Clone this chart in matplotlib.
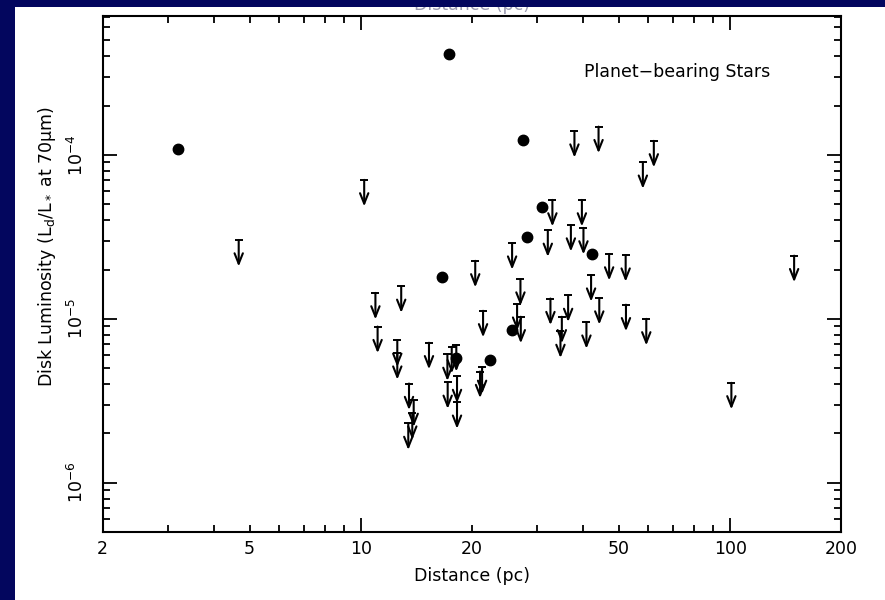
import matplotlib
matplotlib.use('Agg')
import matplotlib.pyplot as plt
from matplotlib.patches import Rectangle

plt.rcParams['font.family'] = ['DejaVu Sans']
plt.rcParams['mathtext.default'] = 'regular'

# detections (filled circles)
det_dist = [3.19, 17.3, 27.4, 31.0, 28.1, 42.2, 16.6, 25.7, 18.1, 22.3]
det_lum = [1.09e-4, 4.11e-4, 1.23e-4, 4.84e-5, 3.16e-5, 2.50e-5,
           1.80e-5, 8.57e-6, 5.76e-6, 5.62e-6]

# upper limits (arrows), value = top bar of the arrow
lim_dist = [4.67, 10.21, 10.95, 12.86, 11.1, 12.55, 12.55, 15.29, 13.5, 13.9,
            13.78, 13.44, 17.15, 17.62, 18.13, 17.18, 18.21, 18.21, 20.4, 21.42,
            21.29, 21.02, 25.67, 27.04, 26.48, 27.1, 33.0, 32.07, 37.03, 39.66,
            40.05, 47.0, 52.1, 42.0, 32.6, 36.4, 44.2, 52.2, 35.0, 34.7,
            40.8, 59.25, 37.86, 44.0, 62.1, 58.0, 148.9, 100.7]
lim_lum = [3.03e-5, 7.05e-5, 1.44e-5, 1.58e-5, 8.97e-6, 7.40e-6, 6.18e-6, 7.15e-6, 4.03e-6, 3.18e-6,
           2.66e-6, 2.30e-6, 6.07e-6, 6.75e-6, 6.92e-6, 4.10e-6, 4.45e-6, 3.10e-6, 2.26e-5, 1.12e-5,
           5.06e-6, 4.77e-6, 2.90e-5, 1.75e-5, 1.23e-5, 1.03e-5, 5.32e-5, 3.47e-5, 3.74e-5, 5.32e-5,
           3.59e-5, 2.49e-5, 2.45e-5, 1.85e-5, 1.33e-5, 1.39e-5, 1.34e-5, 1.22e-5, 1.03e-5, 8.38e-6,
           9.55e-6, 1.00e-5, 1.40e-4, 1.49e-4, 1.22e-4, 9.04e-5, 2.43e-5, 4.07e-6]

xmajor = [10, 100]
xminor = [2, 3, 4, 5, 6, 7, 8, 9, 20, 30, 40, 50, 60, 70, 80, 90, 200]
xminor_lab = ['2', '', '', '5', '', '', '', '', '20', '', '', '50', '', '', '', '', '200']
ymajor = [1e-6, 1e-5, 1e-4]
ymajor_lab = [r'$10^{-6}$', r'$10^{-5}$', r'$10^{-4}$']

navy = '#03065e'

fig = plt.figure(figsize=(8.85, 6.0), dpi=100)
fig.patch.set_facecolor('white')
ax = fig.add_axes([0.116, 0.1133, 0.8348, 0.86])

ax.set_xscale('log')
ax.set_yscale('log')
ax.set_xlim(2, 200)
ax.set_ylim(5.0e-7, 7.05e-4)

ax.plot(det_dist, det_lum, 'o', color='black', ms=7.5, zorder=3)

drop = 10 ** (-0.162)
for x, y in zip(lim_dist, lim_lum):
    ax.plot([x], [y], marker='_', color='black', ms=5.5, mew=1.4, zorder=3)
    ax.annotate('', xy=(x, y * drop), xytext=(x, y),
                arrowprops=dict(arrowstyle='->,head_length=0.75,head_width=0.3',
                                color='black', lw=1.5, shrinkA=0, shrinkB=0))

ax.set_xticks(xmajor, labels=['10', '100'])
ax.set_xticks(xminor, labels=xminor_lab, minor=True)
ax.set_yticks(ymajor, labels=ymajor_lab)
ax.yaxis.set_minor_locator(matplotlib.ticker.LogLocator(base=10, subs=range(2, 10)))
ax.yaxis.set_minor_formatter(matplotlib.ticker.NullFormatter())

ax.tick_params(which='both', direction='in', top=True, right=True, width=1.3,
               labelsize=12.5, colors='black')
ax.tick_params(which='major', length=10)
ax.tick_params(which='minor', length=5)
ax.tick_params(axis='x', which='both', pad=6)
ax.tick_params(axis='y', which='both', pad=11)
for lab in ax.get_yticklabels():
    lab.set_rotation(90)
    lab.set_va('center')
for s in ax.spines.values():
    s.set_linewidth(1.5)

ax.set_xlabel('Distance (pc)', fontsize=12.5, labelpad=6)
fig.text(47 / 885, 1 - 246 / 600, r'Disk Luminosity (L$_d$/L$_*$ at 70$\mu$m)',
         rotation=90, ha='center', va='center', fontsize=12.5)

ax.text(0.6515, 0.891, 'Planet\u2212bearing Stars', transform=ax.transAxes,
        ha='left', va='center', fontsize=12.5)

# top label partly hidden behind the blue frame
fig.text(472 / 885, 1 - 10 / 600, 'Distance (pc)', ha='center', va='baseline',
         fontsize=12.5, color='#9a9ab0', zorder=1)

# blue slide frame
fig.patches.append(Rectangle((0, 0), 15 / 885, 1, transform=fig.transFigure,
                             facecolor=navy, edgecolor='none', zorder=10))
fig.patches.append(Rectangle((0, 1 - 7 / 600), 1, 7 / 600, transform=fig.transFigure,
                             facecolor=navy, edgecolor='none', zorder=10))

fig.savefig('out.png', dpi=100, facecolor='white')
